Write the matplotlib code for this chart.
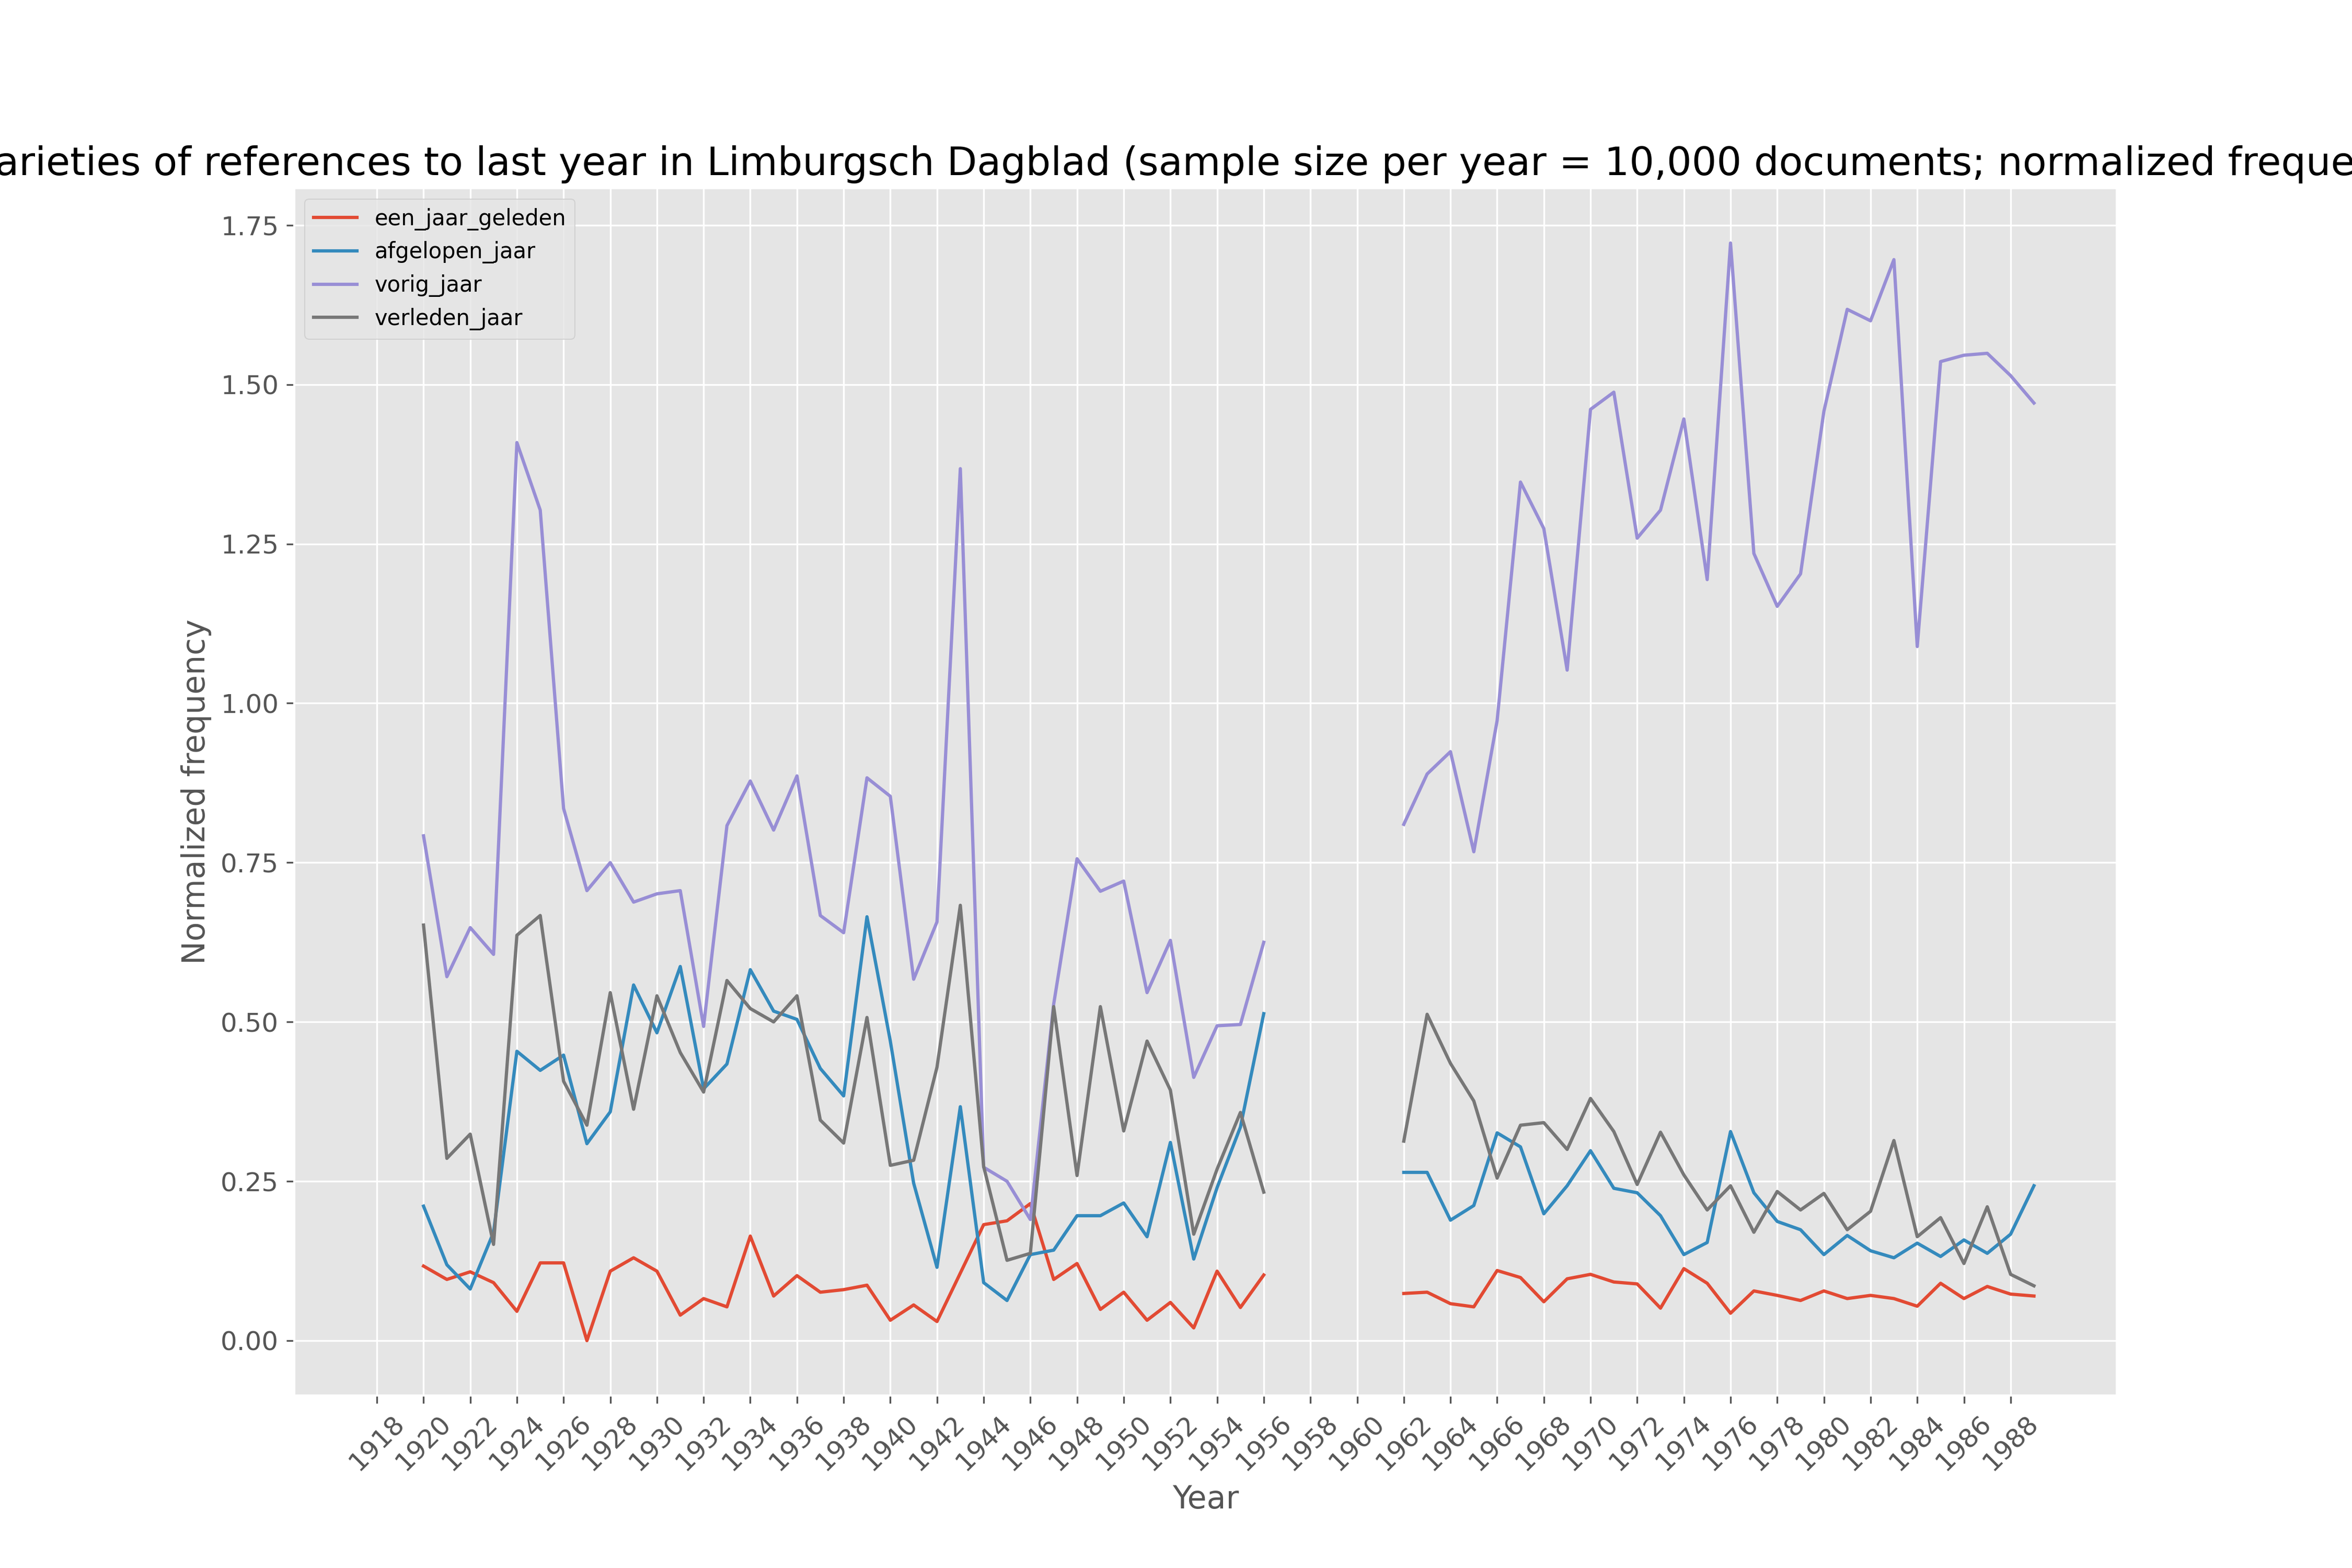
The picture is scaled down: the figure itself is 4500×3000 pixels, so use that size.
import numpy as np
import matplotlib
matplotlib.use('Agg')
import matplotlib.pyplot as plt

nan = np.nan
years = list(range(1918, 1990))

# 1918-1919 and 1957-1961 have no data
een_jaar_geleden = [nan, nan,
    0.117, 0.096, 0.108, 0.091, 0.046, 0.122, 0.122, 0.000, 0.109, 0.130,
    0.109, 0.040, 0.066, 0.053, 0.164, 0.070, 0.102, 0.076, 0.080, 0.087,
    0.032, 0.056, 0.030, 0.106, 0.182, 0.188, 0.215, 0.096, 0.121, 0.049,
    0.076, 0.032, 0.060, 0.020, 0.109, 0.052, 0.103,
    nan, nan, nan, nan, nan,
    0.074, 0.076, 0.058, 0.053, 0.110, 0.099, 0.061, 0.097,
    0.104, 0.092, 0.089, 0.051, 0.113, 0.090, 0.043, 0.078, 0.071, 0.063,
    0.078, 0.066, 0.071, 0.066, 0.054, 0.090, 0.066, 0.085, 0.073, 0.070]

afgelopen_jaar = [nan, nan,
    0.211, 0.119, 0.081, 0.170, 0.454, 0.424, 0.448, 0.309, 0.359, 0.558,
    0.483, 0.587, 0.395, 0.434, 0.582, 0.517, 0.504, 0.427, 0.384, 0.665,
    0.470, 0.247, 0.115, 0.367, 0.091, 0.063, 0.135, 0.142, 0.196, 0.196,
    0.216, 0.163, 0.311, 0.128, 0.240, 0.335, 0.513,
    nan, nan, nan, nan, nan,
    0.264, 0.264, 0.189, 0.212, 0.326, 0.304, 0.199, 0.243,
    0.298, 0.239, 0.232, 0.196, 0.135, 0.154, 0.328, 0.232, 0.187, 0.174,
    0.135, 0.165, 0.141, 0.130, 0.153, 0.132, 0.158, 0.137, 0.167, 0.243]

vorig_jaar = [nan, nan,
    0.792, 0.571, 0.648, 0.606, 1.409, 1.303, 0.835, 0.706, 0.750, 0.688,
    0.701, 0.706, 0.493, 0.808, 0.878, 0.801, 0.886, 0.667, 0.640, 0.883,
    0.854, 0.567, 0.657, 1.368, 0.272, 0.250, 0.190, 0.528, 0.756, 0.705,
    0.721, 0.546, 0.628, 0.413, 0.494, 0.496, 0.625,
    nan, nan, nan, nan, nan,
    0.810, 0.889, 0.924, 0.767, 0.973, 1.347, 1.274, 1.052,
    1.461, 1.488, 1.259, 1.303, 1.446, 1.194, 1.722, 1.235, 1.152, 1.203,
    1.458, 1.618, 1.600, 1.696, 1.089, 1.536, 1.546, 1.549, 1.514, 1.471]

verleden_jaar = [nan, nan,
    0.652, 0.286, 0.324, 0.151, 0.636, 0.667, 0.407, 0.338, 0.546, 0.363,
    0.541, 0.452, 0.390, 0.565, 0.521, 0.500, 0.541, 0.346, 0.310, 0.507,
    0.275, 0.283, 0.429, 0.683, 0.273, 0.126, 0.137, 0.524, 0.259, 0.524,
    0.329, 0.470, 0.393, 0.167, 0.269, 0.358, 0.233,
    nan, nan, nan, nan, nan,
    0.313, 0.512, 0.435, 0.376, 0.255, 0.338, 0.342, 0.300,
    0.380, 0.328, 0.245, 0.327, 0.260, 0.205, 0.243, 0.170, 0.234, 0.205,
    0.231, 0.174, 0.203, 0.314, 0.163, 0.193, 0.121, 0.210, 0.104, 0.086]

plt.style.use('ggplot')
plt.rcParams['font.size'] = 12
plt.figure(figsize=(15, 10))

plt.plot(years, een_jaar_geleden, label='een_jaar_geleden')
plt.plot(years, afgelopen_jaar, label='afgelopen_jaar')
plt.plot(years, vorig_jaar, label='vorig_jaar')
plt.plot(years, verleden_jaar, label='verleden_jaar')

plt.xticks(range(1918, 1990, 2), rotation=45)
plt.xlim(years[0] - 0.05 * (years[-1] - years[0]), years[-1] + 0.05 * (years[-1] - years[0]))
plt.title("Varieties of references to last year in Limburgsch Dagblad "
          "(sample size per year = 10,000 documents; normalized frequency)", fontsize=18)
plt.xlabel("Year")
plt.ylabel("Normalized frequency")
plt.legend(loc='upper left', fontsize=10)
plt.savefig('out.png', dpi=300)
